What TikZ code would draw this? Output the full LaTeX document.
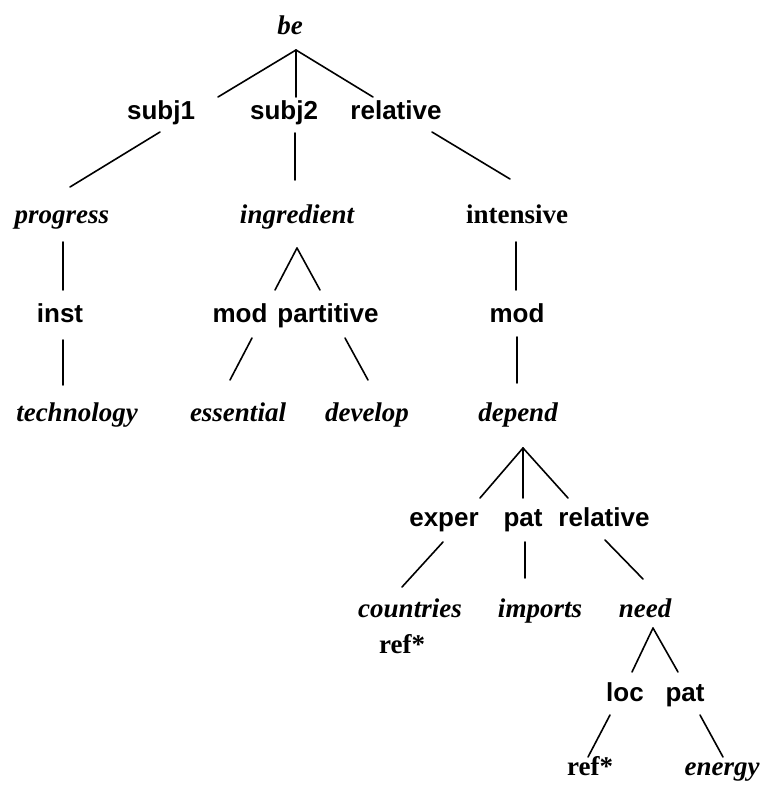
\documentclass[tikz,border=0pt]{standalone}
\usepackage{fontspec}
\setmainfont{Liberation Serif}
\setsansfont{Liberation Sans}
\begin{document}
\begin{tikzpicture}[x=1pt,y=-1pt,
  word/.style={inner sep=0pt,anchor=base,font=\fontsize{27}{30}\selectfont\bfseries\itshape},
  plainword/.style={inner sep=0pt,anchor=base,font=\fontsize{27}{30}\selectfont\bfseries},
  rel/.style={inner sep=0pt,anchor=base,font=\fontsize{26}{30}\selectfont\sffamily\bfseries},
  link/.style={line width=1.6pt,line cap=round}]
\useasboundingbox (0,0) rectangle (765,789);

% words and relation labels
\node[word] (be) at (290,35) {be};
\node[rel] (subj1) at (161,120) {subj1};
\node[rel] (subj2) at (284,120) {subj2};
\node[rel] (rel1) at (396,120) {relative};
\node[word] (progress) at (62,223) {progress};
\node[word] (ingredient) at (297,223) {ingredient};
\node[plainword] (intensive) at (517,223) {intensive};
\node[rel] (inst) at (60,322) {inst};
\node[rel] (mod1) at (240,322) {mod};
\node[rel] (partitive) at (328,322) {partitive};
\node[rel] (mod2) at (517,322) {mod};
\node[word] (technology) at (77,421) {technology};
\node[word] (essential) at (238,421) {essential};
\node[word] (develop) at (367,421) {develop};
\node[word] (depend) at (518,421) {depend};
\node[rel] (exper) at (444,526) {exper};
\node[rel] (pat1) at (523,526) {pat};
\node[rel] (rel2) at (604,526) {relative};
\node[word] (countries) at (410,617) {countries};
\node[plainword] (ref1) at (402,653) {ref*};
\node[word] (imports) at (540,617) {imports};
\node[word] (need) at (645,617) {need};
\node[rel] (loc) at (625,701) {loc};
\node[rel] (pat2) at (685,701) {pat};
\node[plainword] (ref2) at (590,775) {ref*};
\node[word] (energy) at (722,775) {energy};

% branch points and segment ends
\coordinate (be-top) at (296,50);
\coordinate (subj1-in) at (218,97);
\coordinate (subj2-in) at (296,97);
\coordinate (rel1-in) at (373,97);
\coordinate (subj1-out) at (160,132);
\coordinate (progress-in) at (70,187);
\coordinate (subj2-out) at (295,133);
\coordinate (ingredient-in) at (295,180);
\coordinate (rel1-out) at (432,132);
\coordinate (intensive-in) at (510,179);
\coordinate (progress-out) at (63,242);
\coordinate (inst-in) at (63,290);
\coordinate (inst-out) at (63,340);
\coordinate (technology-in) at (63,385);
\coordinate (ingredient-top) at (297,248);
\coordinate (mod1-in) at (275,290);
\coordinate (partitive-in) at (320,290);
\coordinate (mod1-out) at (252,338);
\coordinate (essential-in) at (230,380);
\coordinate (partitive-out) at (345,338);
\coordinate (develop-in) at (368,380);
\coordinate (intensive-out) at (516,242);
\coordinate (mod2-in) at (516,290);
\coordinate (mod2-out) at (517,337);
\coordinate (depend-in) at (517,383);
\coordinate (depend-top) at (523,448);
\coordinate (exper-in) at (480,498);
\coordinate (pat1-in) at (523,498);
\coordinate (rel2-in) at (568,498);
\coordinate (exper-out) at (443,542);
\coordinate (countries-in) at (402,587);
\coordinate (pat1-out) at (525,542);
\coordinate (imports-in) at (525,578);
\coordinate (rel2-out) at (605,540);
\coordinate (need-in) at (643,579);
\coordinate (need-top) at (653,628);
\coordinate (loc-in) at (632,672);
\coordinate (pat2-in) at (678,672);
\coordinate (loc-out) at (610,715);
\coordinate (ref2-in) at (588,757);
\coordinate (pat2-out) at (700,715);
\coordinate (energy-in) at (723,757);

% tree edges
\draw[link] (be-top) -- (subj1-in);
\draw[link] (be-top) -- (subj2-in);
\draw[link] (be-top) -- (rel1-in);
\draw[link] (subj1-out) -- (progress-in);
\draw[link] (subj2-out) -- (ingredient-in);
\draw[link] (rel1-out) -- (intensive-in);
\draw[link] (progress-out) -- (inst-in);
\draw[link] (inst-out) -- (technology-in);
\draw[link] (ingredient-top) -- (mod1-in);
\draw[link] (ingredient-top) -- (partitive-in);
\draw[link] (mod1-out) -- (essential-in);
\draw[link] (partitive-out) -- (develop-in);
\draw[link] (intensive-out) -- (mod2-in);
\draw[link] (mod2-out) -- (depend-in);
\draw[link] (depend-top) -- (exper-in);
\draw[link] (depend-top) -- (pat1-in);
\draw[link] (depend-top) -- (rel2-in);
\draw[link] (exper-out) -- (countries-in);
\draw[link] (pat1-out) -- (imports-in);
\draw[link] (rel2-out) -- (need-in);
\draw[link] (need-top) -- (loc-in);
\draw[link] (need-top) -- (pat2-in);
\draw[link] (loc-out) -- (ref2-in);
\draw[link] (pat2-out) -- (energy-in);
\end{tikzpicture}
\end{document}
